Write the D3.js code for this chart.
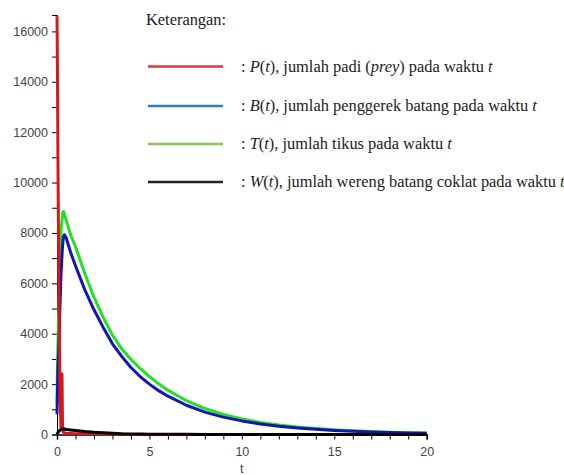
<!DOCTYPE html>
<html lang="id">
<head>
<meta charset="UTF-8">
<title>Dinamika populasi</title>
<script src="https://d3js.org/d3.v7.min.js"></script>
<style>
  body { margin: 0; background: #fff; }
  .tick text { font-family: "Liberation Sans", Arial, sans-serif; font-size: 12.5px; fill: #444; }
</style>
</head>
<body>
<div id="chart"></div>
<script>
// time points (t) and the four populations
const tVals = [0, 0.02, 0.05, 0.1, 0.15, 0.2, 0.22, 0.27, 0.3, 0.35, 0.4, 0.5, 0.75, 1, 1.5, 2, 2.5, 3, 3.5, 4, 4.5, 5, 5.5, 6, 7, 8, 9, 10, 11, 12, 13, 14, 15, 16, 17, 18, 19, 20];
const padi    = [16600, 15000, 11000, 6000, 2500, 600, 200, 2400, 300, 100, 60, 50, 40, 30, 30, 25, 20, 20, 5, 0, 0, 0, 0, 0, 0, 0, 0, 0, 0, 0, 0, 0, 0, 0, 0, 0, 0, 0];
const batang  = [800, 1500, 2500, 3500, 4800, 6000, 6400, 7100, 7500, 7850, 7930, 7800, 7200, 6700, 5750, 4950, 4250, 3600, 3100, 2660, 2300, 2000, 1740, 1520, 1160, 890, 690, 540, 420, 330, 260, 205, 160, 125, 100, 80, 63, 50];
const tikus   = [1200, 2500, 3600, 5000, 6500, 7800, 8100, 8500, 8800, 8850, 8750, 8500, 7900, 7450, 6400, 5450, 4650, 3950, 3400, 2980, 2620, 2300, 2010, 1760, 1340, 1030, 800, 620, 480, 380, 300, 235, 185, 145, 115, 90, 72, 58];
const wereng  = [0, 40, 80, 130, 160, 180, 190, 210, 220, 225, 220, 200, 180, 160, 120, 90, 70, 50, 30, 20, 15, 10, 8, 6, 5, 4, 4, 3, 3, 3, 3, 3, 2, 2, 2, 2, 2, 2];

const xTicks = [0, 5, 10, 15, 20];
const yTicks = [0, 2000, 4000, 6000, 8000, 10000, 12000, 14000, 16000];

const legendItems = [
  { label: [[": ", ""], ["P", "i"], ["(", ""], ["t", "i"], ["), jumlah padi (", ""], ["prey", "i"], [") pada waktu ", ""], ["t", "i"]], color: "#e2353a" },
  { label: [[": ", ""], ["B", "i"], ["(", ""], ["t", "i"], ["), jumlah penggerek batang pada waktu ", ""], ["t", "i"]], color: "#2f7fc0" },
  { label: [[": ", ""], ["T", "i"], ["(", ""], ["t", "i"], ["), jumlah tikus pada waktu ", ""], ["t", "i"]], color: "#8cc35a" },
  { label: [[": ", ""], ["W", "i"], ["(", ""], ["t", "i"], ["), jumlah wereng batang coklat pada waktu ", ""], ["t", "i"]], color: "#222222" }
];

const W = 564, H = 475;
const svg = d3.select("#chart").append("svg")
    .attr("width", W)
    .attr("height", H);

const x = d3.scaleLinear().domain([0, 20]).range([57, 426.7]);
const y = d3.scaleLinear().domain([0, 16650]).range([434.5, 15]);

// axes, with unlabeled minor ticks
const xAxis = svg.append("g")
    .attr("transform", `translate(0,${y(0)})`)
    .call(d3.axisBottom(x).tickValues(d3.range(0, 21, 1)).tickSize(5)
        .tickFormat(d => xTicks.includes(d) ? d : ""))
    .call(g => g.select(".domain").attr("stroke", "#000").attr("stroke-width", 1.5));
xAxis.selectAll(".tick text").attr("dy", "1.1em");

const yAxis = svg.append("g")
    .attr("transform", `translate(${x(0)},0)`)
    .call(d3.axisLeft(y).tickValues(d3.range(0, 16001, 1000)).tickSize(5)
        .tickFormat(d => yTicks.includes(d) ? d : ""))
    .call(g => g.select(".domain").attr("stroke", "#000"));
yAxis.selectAll(".tick text").attr("x", -9);

svg.append("text")
    .attr("x", x(10))
    .attr("y", 473)
    .attr("text-anchor", "middle")
    .style("font-family", "Liberation Sans, Arial, sans-serif")
    .style("font-size", "12.5px")
    .style("fill", "#444")
    .text("t");

const line = vals => d3.line()
    .x((d, i) => x(tVals[i]))
    .y(d => y(d))(vals);

const series = [
  { vals: tikus, color: "#22e022", w: 3 },
  { vals: batang, color: "#1414b4", w: 3 },
  { vals: padi, color: "#d81818", w: 3 },
  { vals: wereng, color: "#000000", w: 3 }
];

svg.selectAll("path.series")
  .data(series)
  .join("path")
    .attr("class", "series")
    .attr("d", d => line(d.vals))
    .attr("fill", "none")
    .attr("stroke", d => d.color)
    .attr("stroke-width", d => d.w)
    .attr("stroke-linejoin", "round");

// legend
const serif = "'Liberation Serif', 'Times New Roman', 'DejaVu Serif', serif";
const legend = svg.append("g")
    .style("font-family", serif)
    .style("font-size", "16.4px")
    .style("fill", "#222");
legend.append("text")
    .attr("x", 146)
    .attr("y", 25)
    .text("Keterangan:");

const rowY = [66.5, 106, 144, 182];
legendItems.forEach((item, i) => {
  legend.append("line")
      .attr("x1", 148).attr("x2", 223)
      .attr("y1", rowY[i]).attr("y2", rowY[i])
      .attr("stroke", item.color)
      .attr("stroke-width", 2.5);
  const txt = legend.append("text")
      .attr("x", 241)
      .attr("y", rowY[i] + 5);
  item.label.forEach(p => {
    txt.append("tspan")
        .style("font-style", p[1] === "i" ? "italic" : "normal")
        .text(p[0]);
  });
});
</script>
</body>
</html>
